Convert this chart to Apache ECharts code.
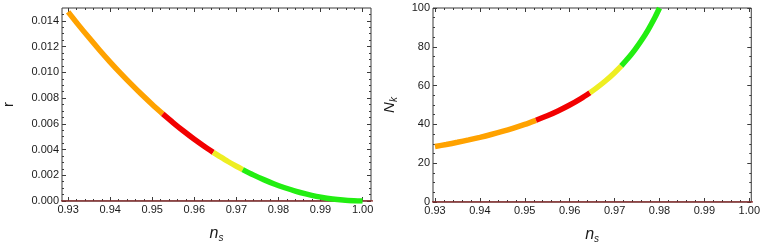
<!DOCTYPE html>
<html><head><meta charset="utf-8">
<script src="https://cdn.jsdelivr.net/npm/echarts@6/dist/echarts.min.js"></script>
<style>html,body{margin:0;padding:0;background:#fff}#c{width:763px;height:250px}</style>
</head><body><div id="c"></div>
<script>
// ---- data ----
const xTickLabels = [0.93, 0.94, 0.95, 0.96, 0.97, 0.98, 0.99, 1.00];
const xMinorTicks = [0.932,0.934,0.936,0.938,0.942,0.944,0.946,0.948,0.952,0.954,0.956,0.958,0.962,0.964,0.966,0.968,0.972,0.974,0.976,0.978,0.982,0.984,0.986,0.988,0.992,0.994,0.996,0.998];
const rTickLabels = [0, 0.002, 0.004, 0.006, 0.008, 0.010, 0.012, 0.014];
const rMinorTicks = [0.0005,0.001,0.0015,0.0025,0.003,0.0035,0.0045,0.005,0.0055,0.0065,0.007,0.0075,0.0085,0.009,0.0095,0.0105,0.011,0.0115,0.0125,0.013,0.0135,0.0145];
const nTickLabels = [0, 20, 40, 60, 80, 100];
const nMinorTicks = [5,10,15,25,30,35,45,50,55,65,70,75,85,90,95];

const nsOrange = [0.93, 0.9325, 0.935, 0.9375, 0.94, 0.9425, 0.945, 0.9475, 0.95, 0.9525];
const rOrange  = [0.0147, 0.01367, 0.01268, 0.01172, 0.0108, 0.00992, 0.00908, 0.00827, 0.0075, 0.00677];
const nkOrange = [28.57, 29.63, 30.77, 32.0, 33.33, 34.78, 36.36, 38.10, 40.0, 42.11];

const nsRed = [0.9525, 0.955, 0.9575, 0.96, 0.9625, 0.9645];
const rRed  = [0.00677, 0.00608, 0.00542, 0.0048, 0.00422, 0.00378];
const nkRed = [42.11, 44.44, 47.06, 50.0, 53.33, 56.34];

const nsYellow = [0.9645, 0.966, 0.968, 0.970, 0.9715];
const rYellow  = [0.00378, 0.00347, 0.00307, 0.0027, 0.00244];
const nkYellow = [56.34, 58.82, 62.5, 66.67, 70.18];

const nsGreenL = [0.9715, 0.974, 0.9765, 0.979, 0.9815, 0.984, 0.9865, 0.989, 0.9915, 0.994, 0.9965, 1.0];
const rGreen   = [0.00244, 0.00203, 0.00166, 0.00132, 0.00103, 0.00077, 0.00055, 0.00036, 0.00022, 0.00011, 0.00004, 0];
const nsGreenR = [0.9715, 0.973, 0.9745, 0.976, 0.9775, 0.979, 0.98];
const nkGreen  = [70.18, 74.07, 78.43, 83.33, 88.89, 95.24, 100];

// zero line along the bottom of each panel (ns, value)
const zeroLineNs = [0.92, 1.01];
const zeroLineVal = [0, 0];

// plot ranges
const xRangeLeft = [0.92855, 1.002];
const xRangeRight = [0.92956, 1.00044];
const rRange = [0, 0.015];
const nkRange = [0, 100];

const colors = {orange:'#FFA200', red:'#F20000', yellow:'#EEEE22', green:'#22EE11', zero:'#8B2A2A'};

// ---- chart ----
const zip = (a,b) => a.map((v,i)=>[v,b[i]]);
const FONT = 'Liberation Sans';
const frameColor = '#3a3a3a';
const labelStyle = {color:'#1a1a1a', fontFamily:FONT, fontSize:11};
const noLine = {show:false, onZero:false};

function tickAxis(kind, gridIndex, range, position, values, len, extra){
  return Object.assign({type:'value', gridIndex, min:range[0], max:range[1], position,
    splitLine:{show:false}, axisLine:noLine,
    axisTick:{show:true, inside:true, length:len, customValues:values, lineStyle:{color:frameColor, width:1}},
    axisLabel:{show:false}}, extra||{});
}

function xAxes(gridIndex, range){
  const major = tickAxis('x', gridIndex, range, 'bottom', xTickLabels, 4, {
      axisLabel:{show:true, customValues:xTickLabels, margin:3, formatter:v=>v.toFixed(2), ...labelStyle},
      name:'{n|n}{s|s}', nameLocation:'middle', nameGap:24,
      nameTextStyle:{rich:{n:{fontFamily:FONT,fontStyle:'italic',fontSize:16,color:'#1a1a1a'},
        s:{fontFamily:FONT,fontStyle:'italic',fontSize:10,color:'#1a1a1a',verticalAlign:'bottom',padding:[8,0,0,0]}}}});
  return [
    major,
    tickAxis('x', gridIndex, range, 'bottom', xMinorTicks, 2),
    tickAxis('x', gridIndex, range, 'top', xTickLabels, 4),
    tickAxis('x', gridIndex, range, 'top', xMinorTicks, 2)
  ];
}
function yAxes(gridIndex, range, major, minor, fmt, name, nameGap){
  const m = tickAxis('y', gridIndex, range, 'left', major, 4, {
      axisLabel:{show:true, customValues:major, margin:3, formatter:fmt, ...labelStyle},
      name, nameLocation:'middle', nameGap, nameRotate:90,
      nameTextStyle:{rich:{n:{fontFamily:FONT,fontStyle:'italic',fontSize:15,color:'#1a1a1a'},
        m:{fontFamily:FONT,fontSize:15,color:'#1a1a1a'},
        s:{fontFamily:FONT,fontStyle:'italic',fontSize:10,color:'#1a1a1a',verticalAlign:'bottom',padding:[8,0,0,0]}}}});
  return [
    m,
    tickAxis('y', gridIndex, range, 'left', minor, 2),
    tickAxis('y', gridIndex, range, 'right', major, 4),
    tickAxis('y', gridIndex, range, 'right', minor, 2)
  ];
}

function seg(idx, xs, ys, color, width){
  return {type:'line', xAxisIndex:idx, yAxisIndex:idx, data:zip(xs,ys), showSymbol:false, symbol:'none',
    smooth:0.3, lineStyle:{color, width:width||5.5, cap:'butt'}, silent:true, animation:false, z:3};
}

const option = {
  animation:false,
  backgroundColor:'#fff',
  grid:[
    {left:57, right:392, top:8, bottom:49, show:true, borderColor:frameColor, borderWidth:1, backgroundColor:'transparent'},
    {left:433, right:10, top:8, bottom:48, show:true, borderColor:frameColor, borderWidth:1, backgroundColor:'transparent'}
  ],
  xAxis:[...xAxes(0, xRangeLeft), ...xAxes(1, xRangeRight)],
  yAxis:[
    ...yAxes(0, rRange, rTickLabels, rMinorTicks, v=>v.toFixed(3), '{m|r}', 46),
    ...yAxes(1, nkRange, nTickLabels, nMinorTicks, v=>String(Math.round(v)), '{n|N}{s|k}', 34)
  ],
  series:[
    seg(0,zeroLineNs,zeroLineVal,colors.zero,1.5),
    seg(0,nsOrange,rOrange,colors.orange),
    seg(0,nsRed,rRed,colors.red),
    seg(0,nsYellow,rYellow,colors.yellow),
    seg(0,nsGreenL,rGreen,colors.green),
    seg(4,zeroLineNs,zeroLineVal,colors.zero,1.5),
    seg(4,nsOrange,nkOrange,colors.orange),
    seg(4,nsRed,nkRed,colors.red),
    seg(4,nsYellow,nkYellow,colors.yellow),
    seg(4,nsGreenR,nkGreen,colors.green)
  ]
};
const chart = echarts.init(document.getElementById('c'), null, {renderer:'canvas'});
chart.setOption(option);
</script>
</body></html>
